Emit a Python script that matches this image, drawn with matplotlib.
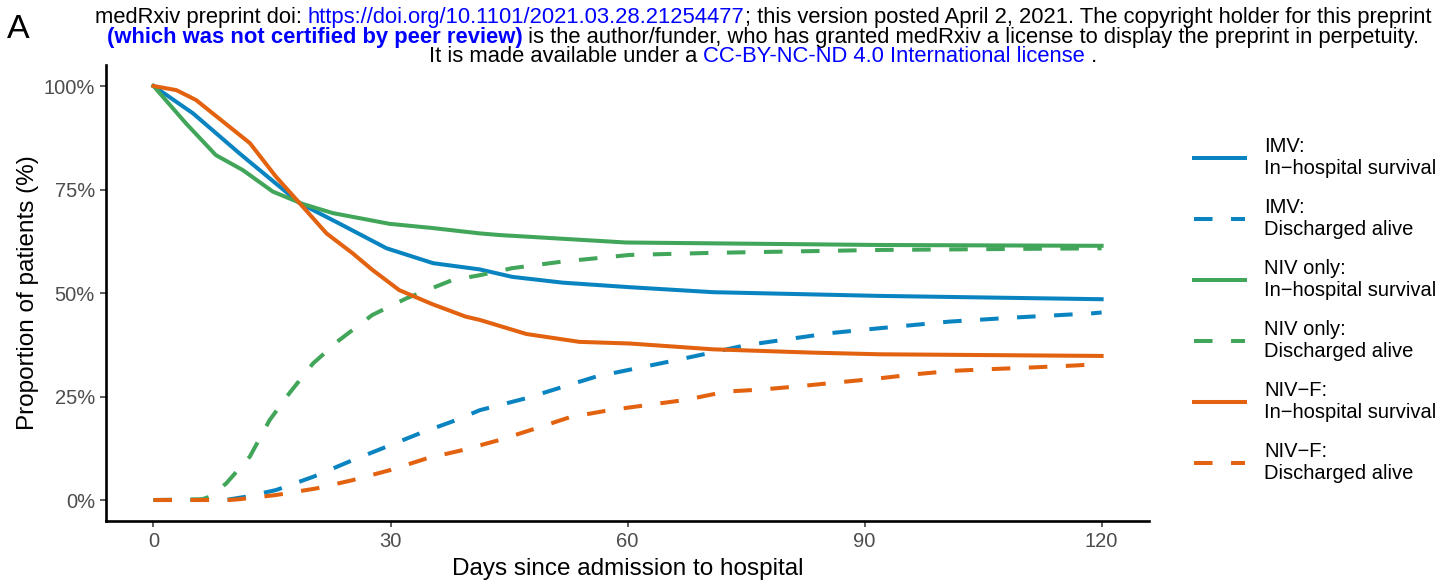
import matplotlib
matplotlib.use("Agg")
from matplotlib import pyplot as plt
from matplotlib.ticker import FuncFormatter

plt.rcParams["font.family"] = ["Liberation Sans", "DejaVu Sans"]

# couleurs des trois groupes
bleu = "#0A84C1"
vert = "#41A55A"
orange = "#E2620F"

# IMV
jours_imv_surv = [0, 5.0, 10.9, 18.5, 23.5, 29.5, 35.4, 41.3, 45.4, 51.8, 60.3, 70.8, 91.9, 120]
imv_surv = [100, 93.4, 83.7, 71.7, 66.8, 60.8, 57.2, 55.7, 53.9, 52.5, 51.4, 50.2, 49.3, 48.5]
jours_imv_sortie = [0, 9.1, 11.7, 15.5, 20.2, 24.8, 29.0, 33.7, 38.3, 41.3, 47.2, 56.0, 66.2,
                    75.0, 85.6, 91.9, 100.8, 109.2, 118.9, 120]
imv_sortie = [0, 0, 0.8, 2.4, 5.6, 9.3, 12.5, 16.1, 19.3, 21.7, 24.6, 29.8, 33.8,
              37.4, 40.3, 41.5, 43.1, 44.1, 45.1, 45.3]

# NIV seule
jours_niv_surv = [0, 4.1, 7.9, 11.3, 15.1, 18.9, 22.7, 29.9, 35.3, 41.3, 43.8, 59.8, 91.9, 120]
niv_surv = [100, 91.0, 83.3, 79.7, 74.5, 71.5, 69.3, 66.7, 65.7, 64.4, 64.0, 62.2, 61.6, 61.4]
jours_niv_sortie = [0, 6.2, 7.1, 9.2, 12.2, 14.7, 17.2, 20.2, 23.5, 27.7, 32.0, 37.8, 41.3,
                    45.4, 51.8, 60.3, 70.8, 91.9, 120]
niv_sortie = [0, 0.2, 0.8, 4.0, 10.5, 19.3, 25.8, 33.0, 38.6, 44.7, 48.7, 53.1, 54.3,
              56.0, 57.6, 59.2, 59.7, 60.4, 60.8]

# NIV-F
jours_nivf_surv = [0, 2.9, 5.4, 8.8, 12.2, 15.5, 18.5, 21.9, 25.2, 27.7, 31.1, 35.3, 39.5,
                   41.3, 47.2, 53.9, 60.3, 70.8, 83.4, 91.9, 120]
nivf_surv = [100, 99.0, 96.6, 91.4, 86.2, 78.1, 71.7, 64.4, 59.6, 55.6, 50.7, 47.3, 44.3,
             43.5, 40.1, 38.2, 37.8, 36.4, 35.6, 35.2, 34.8]
jours_nivf_sortie = [0, 9.6, 10.9, 15.5, 20.6, 25.2, 29.9, 34.5, 39.2, 43.8, 48.4, 52.7, 57.7,
                     67.4, 72.5, 77.1, 81.8, 91.9, 96.5, 101.2, 105.8, 110.9, 115.6, 119.7, 120]
nivf_sortie = [0, 0, 0.2, 1.2, 2.8, 4.8, 7.2, 10.0, 12.1, 14.5, 17.3, 20.0, 21.7,
               24.2, 26.2, 26.7, 27.5, 29.4, 30.4, 31.2, 31.6, 32.0, 32.4, 32.8, 32.9]

courbes = [
    (jours_imv_surv, imv_surv, bleu, "-", "IMV:\nIn\u2212hospital survival"),
    (jours_imv_sortie, imv_sortie, bleu, "--", "IMV:\nDischarged alive"),
    (jours_niv_surv, niv_surv, vert, "-", "NIV only:\nIn\u2212hospital survival"),
    (jours_niv_sortie, niv_sortie, vert, "--", "NIV only:\nDischarged alive"),
    (jours_nivf_surv, nivf_surv, orange, "-", "NIV\u2212F:\nIn\u2212hospital survival"),
    (jours_nivf_sortie, nivf_sortie, orange, "--", "NIV\u2212F:\nDischarged alive"),
]

fig = plt.figure(figsize=(14.55, 5.82), dpi=100)
ax = fig.add_axes([0.0729, 0.1053, 0.7168, 0.7825])

lignes = []
for x, y, c, style, nom in courbes:
    l, = ax.plot(x, y, color=c, linewidth=2.9, label=nom)
    if style == "--":
        l.set_dashes((4.6, 4.6))
    lignes.append(l)

ax.set_xlim(-6, 126)
ax.set_ylim(-5, 105)
ax.set_xticks([0, 30, 60, 90, 120])
ax.set_yticks([0, 25, 50, 75, 100])
ax.yaxis.set_major_formatter(FuncFormatter(lambda v, p: "%d%%" % v))

for cote in ["top", "right"]:
    ax.spines[cote].set_visible(False)
for cote in ["left", "bottom"]:
    ax.spines[cote].set_linewidth(1.9)
ax.tick_params(axis="both", length=4.5, width=1.1, color="#333333",
               labelcolor="#4D4D4D", labelsize=14.5, pad=3.5)

ax.set_xlabel("Days since admission to hospital", fontsize=17.5, labelpad=5)
ax.set_ylabel("Proportion of patients (%)", fontsize=17.5, labelpad=3.5)

fig.legend(handles=lignes, loc="center left", bbox_to_anchor=(0.808, 0.467),
           frameon=False, fontsize=14.5, handlelength=2.55, handletextpad=0.95,
           labelspacing=0.99)

fig.text(0.0048, 1 - 38 / 582, "A", fontsize=24.5, ha="left", va="baseline")


# en-tete multicolore, morceau par morceau
def ligne_entete(morceaux, y):
    fig.canvas.draw()
    rend = fig.canvas.get_renderer()
    textes = []
    total = 0
    for t, c, g in morceaux:
        txt = fig.text(0, y, t, color=c, fontweight=g, fontsize=15.8, ha="left", va="center")
        w = txt.get_window_extent(renderer=rend).width
        textes.append((txt, w))
        total += w
    x0 = 763 - total / 2
    for txt, w in textes:
        txt.set_x(x0 / fig.bbox.width)
        x0 += w


ligne_entete([("medRxiv preprint doi: ", "black", "normal"),
              ("https://doi.org/10.1101/2021.03.28.21254477", "blue", "normal"),
              ("; this version posted April 2, 2021. The copyright holder for this preprint", "black", "normal")],
             1 - 17 / 582)
ligne_entete([("(which was not certified by peer review)", "blue", "bold"),
              (" is the author/funder, who has granted medRxiv a license to display the preprint in perpetuity.", "black", "normal")],
             1 - 37 / 582)
ligne_entete([("It is made available under a ", "black", "normal"),
              ("CC-BY-NC-ND 4.0 International license", "blue", "normal"),
              (" .", "black", "normal")],
             1 - 57 / 582)

fig.savefig("out.png", dpi=100)
